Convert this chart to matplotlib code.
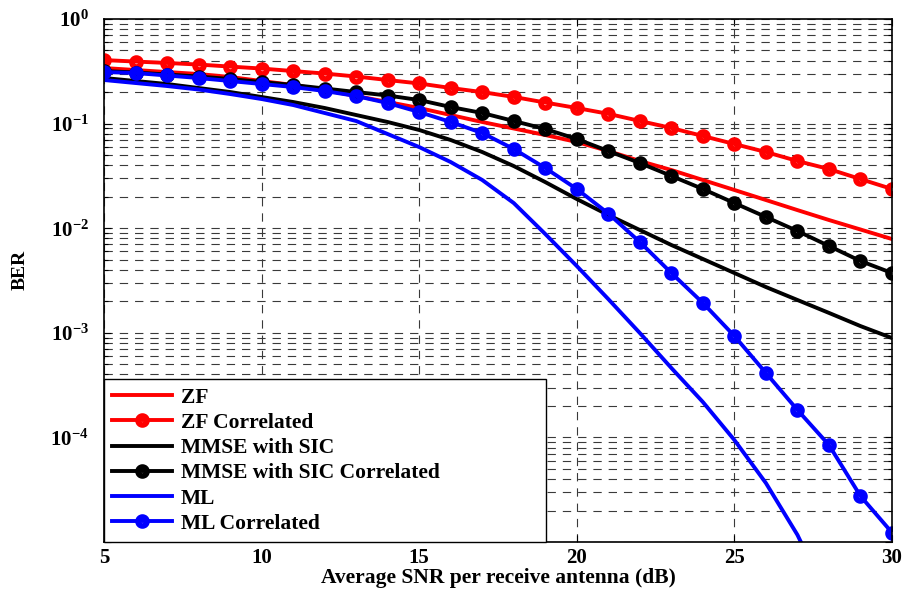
import numpy as np
import matplotlib
matplotlib.use("Agg")
import matplotlib.pyplot as plt
from matplotlib.ticker import LogLocator, FixedLocator, NullFormatter

plt.rcParams['font.family'] = ['Liberation Serif', 'DejaVu Serif']
plt.rcParams['font.weight'] = 'bold'
plt.rcParams['mathtext.fontset'] = 'custom'
plt.rcParams['mathtext.rm'] = 'Liberation Serif:bold'
plt.rcParams['mathtext.it'] = 'Liberation Serif:bold:italic'
plt.rcParams['mathtext.bf'] = 'Liberation Serif:bold'
plt.rcParams['lines.scale_dashes'] = False

snr_db = list(range(5, 31))

ber_zf = [0.340, 0.3253, 0.3113, 0.2980, 0.2790, 0.2554, 0.2339, 0.2096, 0.1836,
          0.1609, 0.1410, 0.1208, 0.1036, 0.0898, 0.0778, 0.0667, 0.0547, 0.0439,
          0.0360, 0.0289, 0.0232, 0.0186, 0.0149, 0.01198, 0.00972, 0.00788]

ber_zf_corr = [0.405, 0.392, 0.380, 0.367, 0.351, 0.336, 0.318, 0.301, 0.282,
               0.261, 0.242, 0.219, 0.200, 0.180, 0.159, 0.141, 0.124, 0.106,
               0.0908, 0.0761, 0.0638, 0.0535, 0.0439, 0.0368, 0.0295, 0.0237]

ber_mmse_sic = [0.2729, 0.2554, 0.2391, 0.2189, 0.2004, 0.1796, 0.1609, 0.1410,
                0.1208, 0.1036, 0.0869, 0.0697, 0.0535, 0.0393, 0.0276, 0.0190,
                0.01337, 0.00961, 0.00691, 0.00508, 0.00373, 0.00274, 0.00206,
                0.00155, 0.00116, 0.000892]

ber_mmse_sic_corr = [0.3183, 0.3079, 0.2947, 0.2820, 0.2669, 0.2498, 0.2339,
                     0.2166, 0.2004, 0.1856, 0.1681, 0.1441, 0.1263, 0.1059,
                     0.0888, 0.0712, 0.0547, 0.0420, 0.0316, 0.0237, 0.0174,
                     0.0128, 0.00940, 0.00676, 0.00486, 0.00373]

snr_db_ml = list(range(5, 29))
ber_ml = [0.2611, 0.2444, 0.2288, 0.2118, 0.1919, 0.1718, 0.1506, 0.1263, 0.1059,
          0.0795, 0.0597, 0.0429, 0.0289, 0.0174, 0.00880, 0.00435, 0.00210,
          0.000996, 0.000461, 0.000218, 9.44e-5, 3.66e-5, 1.17e-5, 2.79e-6]

ber_ml_corr = [0.3113, 0.3046, 0.2884, 0.2729, 0.2554, 0.2391, 0.2238, 0.2049,
               0.1836, 0.1573, 0.1291, 0.1036, 0.0813, 0.0572, 0.0376, 0.0237,
               0.01382, 0.00738, 0.00373, 0.00193, 0.000932, 0.000413, 0.000183,
               8.46e-5, 2.75e-5, 1.23e-5]

labels = ['ZF', 'ZF Correlated', 'MMSE with SIC', 'MMSE with SIC Correlated',
          'ML', 'ML Correlated']

fig = plt.figure(figsize=(9.09, 5.94), dpi=100)
ax = fig.add_axes([0.1144, 0.0875, 0.8669, 0.8805])

lw = 2.8
mk = dict(marker='o', markersize=6.5, markeredgewidth=4.0, markerfacecolor='none')

ax.semilogy(snr_db, ber_zf, color='#ff0000', lw=lw, label=labels[0])
ax.semilogy(snr_db, ber_zf_corr, color='#ff0000', lw=lw, label=labels[1], **mk)
ax.semilogy(snr_db, ber_mmse_sic, color='#000000', lw=lw, label=labels[2])
ax.semilogy(snr_db, ber_mmse_sic_corr, color='#000000', lw=lw, label=labels[3], **mk)
ax.semilogy(snr_db_ml, ber_ml, color='#0000ff', lw=lw, label=labels[4])
ax.semilogy(snr_db, ber_ml_corr, color='#0000ff', lw=lw, label=labels[5], **mk)

ax.set_xlim(5, 30)
ax.set_ylim(1e-5, 1e0)

ax.set_xticks([5, 10, 15, 20, 25, 30])
ax.set_xticklabels(['5', '10', '15', '20', '25', '30'])
ax.yaxis.set_major_locator(FixedLocator([1e-5, 1e-4, 1e-3, 1e-2, 1e-1, 1e0]))
ax.set_yticklabels(['', r'$10^{-4}$', r'$10^{-3}$', r'$10^{-2}$', r'$10^{-1}$', r'$10^{0}$'])
ax.yaxis.set_minor_locator(LogLocator(base=10, subs=np.arange(2, 10), numticks=20))
ax.yaxis.set_minor_formatter(NullFormatter())

ax.tick_params(axis='both', which='both', direction='in', top=True, right=True,
               labelsize=15, width=0.8)
ax.tick_params(which='major', length=5)
ax.tick_params(axis='x', which='major', pad=4)
ax.tick_params(axis='y', which='major', pad=11)
ax.tick_params(which='minor', length=3)
for lab in ax.get_xticklabels() + ax.get_yticklabels():
    lab.set_fontweight('bold')

grid_style = dict(color='#3a3a3a', linestyle=(0, (6, 5)), linewidth=0.8)
ax.grid(True, which='major', axis='x', **grid_style)
ax.grid(True, which='both', axis='y', **grid_style)
ax.set_axisbelow(True)

for sp in ax.spines.values():
    sp.set_linewidth(1.2)
    sp.set_color('black')

ax.set_xlabel('Average SNR per receive antenna (dB)', fontsize=15.5,
              fontweight='bold', labelpad=0)
ax.set_ylabel('BER', fontsize=14, fontweight='bold')
ax.yaxis.set_label_coords(-0.095, 0.52)

leg = ax.legend(loc='lower left', bbox_to_anchor=(0, 0, 0.561, 0.308),
                mode='expand', fontsize=15.5, frameon=True, fancybox=False,
                edgecolor='black', framealpha=1, borderaxespad=0,
                handlelength=2.8, handletextpad=0.4, labelspacing=0.24,
                borderpad=0.38, numpoints=1)
leg.get_frame().set_linewidth(1.0)
for t in leg.get_texts():
    t.set_fontweight('bold')

fig.savefig('out.png', dpi=100)
